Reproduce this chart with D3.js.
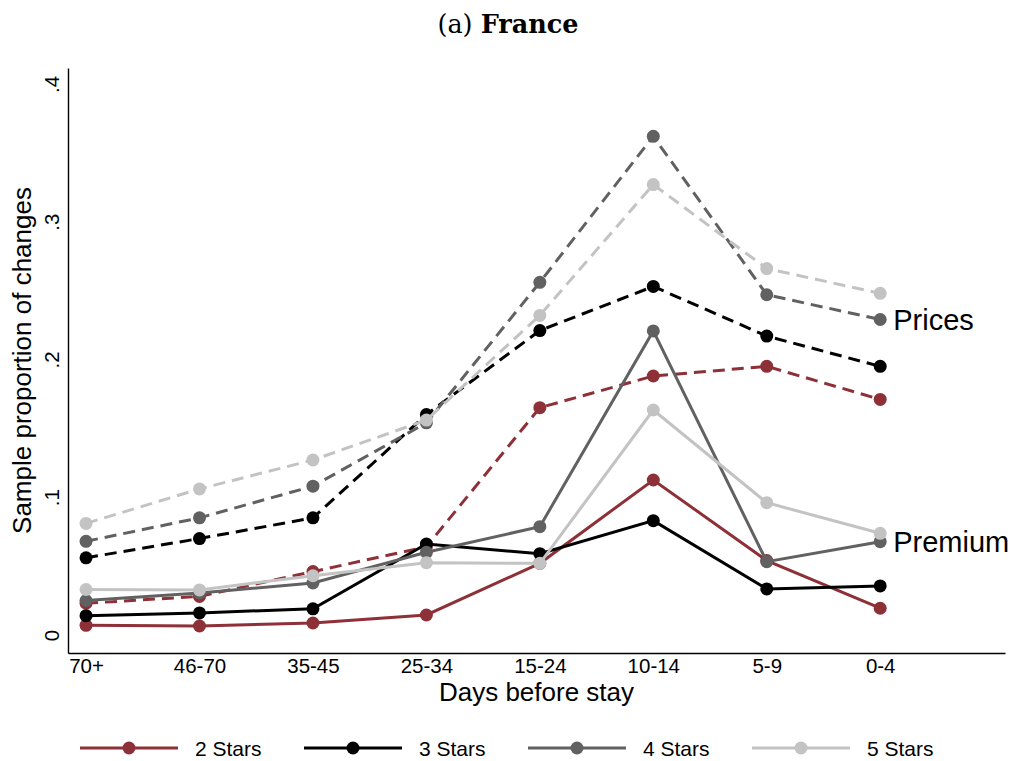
<!DOCTYPE html>
<html>
<head>
<meta charset="utf-8">
<script src="https://cdn.jsdelivr.net/npm/d3@7"></script>
<style>
  html, body { margin: 0; padding: 0; background: #fff; }
  svg { display: block; }
</style>
</head>
<body>
<svg id="chart" width="1017" height="761"></svg>
<script>
// ---- data ----
const categories = ["70+", "46-70", "35-45", "25-34", "15-24", "10-14", "5-9", "0-4"];
const seriesNames = ["2 Stars", "3 Stars", "4 Stars", "5 Stars"];
const seriesColors = ["#8e3038", "#000000", "#616161", "#c3c3c3"];
const prices2 = [0.023, 0.028, 0.046, 0.064, 0.165, 0.188, 0.195, 0.171];
const prices3 = [0.056, 0.070, 0.085, 0.160, 0.221, 0.253, 0.217, 0.195];
const prices4 = [0.068, 0.085, 0.108, 0.154, 0.256, 0.362, 0.247, 0.229];
const prices5 = [0.081, 0.106, 0.127, 0.156, 0.232, 0.327, 0.266, 0.248];
const premium2 = [0.007, 0.0065, 0.0087, 0.0145, 0.052, 0.1125, 0.054, 0.0194];
const premium3 = [0.014, 0.016, 0.019, 0.066, 0.059, 0.083, 0.0334, 0.0356];
const premium4 = [0.025, 0.0305, 0.0377, 0.060, 0.0786, 0.2207, 0.0532, 0.0677];
const premium5 = [0.033, 0.0327, 0.043, 0.0525, 0.052, 0.1633, 0.096, 0.0738];
const yTicks = [0, 0.1, 0.2, 0.3, 0.4];
const yTickLabels = ["0", ".1", ".2", ".3", ".4"];
const titlePrefix = "(a) ";
const titleBold = "France";
const xTitle = "Days before stay";
const yTitle = "Sample proportion of changes";
const groupLabels = ["Prices", "Premium"];

const prices = [prices2, prices3, prices4, prices5];
const premium = [premium2, premium3, premium4, premium5];

// ---- layout ----
const svg = d3.select("#chart");
const sans = "'Liberation Sans', Arial, Helvetica, sans-serif";
const pLeft = 68, pRight = 1005, pTop = 68, pBottom = 653;

const x = d3.scaleLinear().domain([-0.159, 8.1]).range([pLeft, pRight]);
const y = d3.scaleLinear().domain([-0.0131, 0.4116]).range([pBottom, pTop]);

// title
const title = svg.append("text")
  .attr("x", 508).attr("y", 33)
  .attr("text-anchor", "middle")
  .style("font-family", "'DejaVu Serif', 'Liberation Serif', serif")
  .style("font-size", "25.5px")
  .attr("fill", "#000");
title.append("tspan").text(titlePrefix);
title.append("tspan").attr("font-weight", "bold").text(titleBold);

// axes
const xAxis = d3.axisBottom(x)
  .tickValues(d3.range(categories.length))
  .tickFormat(i => categories[i])
  .tickSize(0).tickPadding(5.5);
const gx = svg.append("g").attr("transform", `translate(0,${pBottom})`).call(xAxis);
gx.select(".domain").attr("stroke", "#000").attr("stroke-width", 1.4);
gx.selectAll("text").style("font-family", sans).style("font-size", "20.5px").attr("fill", "#000");

const yAxis = d3.axisLeft(y)
  .tickValues(yTicks)
  .tickFormat((d, i) => yTickLabels[i])
  .tickSize(0);
const gy = svg.append("g").attr("transform", `translate(${pLeft},0)`).call(yAxis);
gy.select(".domain").attr("stroke", "#000").attr("stroke-width", 1.4);
gy.selectAll("text")
  .attr("x", 0).attr("dy", 0)
  .attr("text-anchor", "middle")
  .attr("transform", "translate(-9,0) rotate(-90)")
  .style("font-family", sans).style("font-size", "20.5px").attr("fill", "#000");

// axis titles
svg.append("text")
  .attr("x", (pLeft + pRight) / 2).attr("y", 701)
  .attr("text-anchor", "middle")
  .style("font-family", sans).style("font-size", "26px")
  .text(xTitle);
svg.append("text")
  .attr("transform", `translate(31,${(pTop + pBottom) / 2}) rotate(-90)`)
  .attr("text-anchor", "middle")
  .style("font-family", sans).style("font-size", "26px")
  .text(yTitle);

// lines
const line = d3.line().x((d, i) => x(i)).y(d => y(d));
const plot = svg.append("g");

function drawSeries(vals, color, dashed) {
  plot.append("path")
    .datum(vals)
    .attr("d", line)
    .attr("fill", "none")
    .attr("stroke", color)
    .attr("stroke-width", 3)
    .attr("stroke-dasharray", dashed ? "12,7" : null);
  plot.selectAll(null)
    .data(vals)
    .enter().append("circle")
    .attr("cx", (d, i) => x(i))
    .attr("cy", d => y(d))
    .attr("r", 6.5)
    .attr("fill", color);
}
prices.forEach((vals, k) => drawSeries(vals, seriesColors[k], true));
premium.forEach((vals, k) => drawSeries(vals, seriesColors[k], false));

// group labels next to the last 4-star points
const last = categories.length - 1;
[[prices4, groupLabels[0]], [premium4, groupLabels[1]]].forEach(([vals, lbl]) => {
  svg.append("text")
    .attr("x", x(last) + 13)
    .attr("y", y(vals[last]) + 10)
    .style("font-family", sans).style("font-size", "29px")
    .text(lbl);
});

// legend
const legY = 748;
seriesNames.forEach((name, k) => {
  const x0 = 80 + k * 224;
  const g = svg.append("g");
  g.append("line")
    .attr("x1", x0).attr("x2", x0 + 98)
    .attr("y1", legY).attr("y2", legY)
    .attr("stroke", seriesColors[k]).attr("stroke-width", 3);
  g.append("circle")
    .attr("cx", x0 + 49).attr("cy", legY).attr("r", 6.5)
    .attr("fill", seriesColors[k]);
  g.append("text")
    .attr("x", x0 + 115).attr("y", legY + 7.5)
    .style("font-family", sans).style("font-size", "21px")
    .text(name);
});
</script>
</body>
</html>
